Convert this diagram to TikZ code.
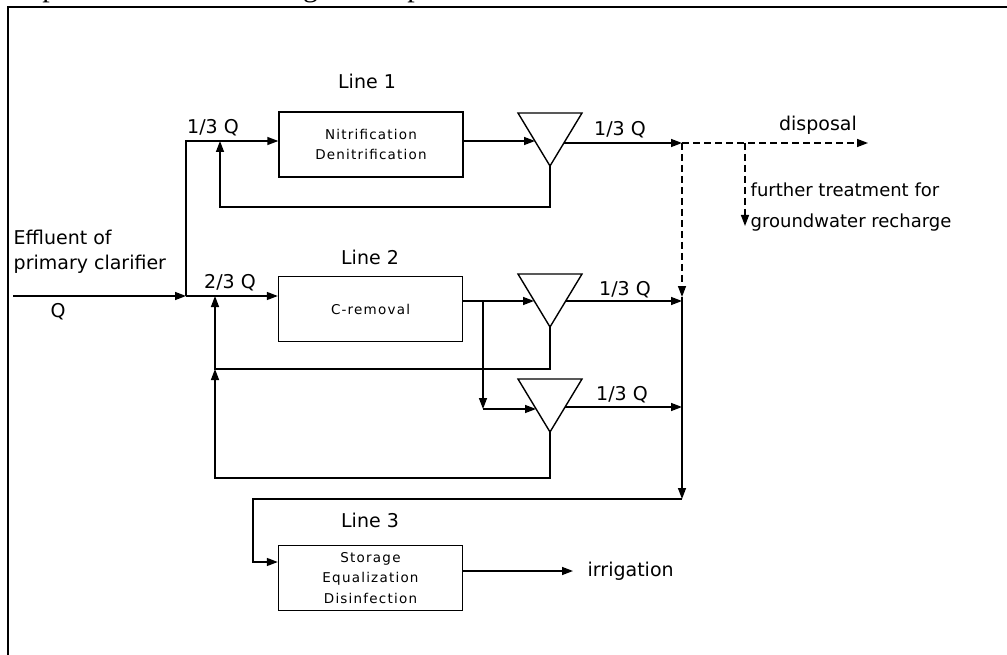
\documentclass[tikz,border=0pt]{standalone}
\usepackage{fontspec}
\setmainfont{DejaVu Sans}
\newfontfamily\titlefont{Liberation Serif}
\newfontfamily\boxfont[LetterSpace=9]{DejaVu Sans}
\usetikzlibrary{arrows.meta}

\begin{document}
\begin{tikzpicture}[x=1pt, y=-1pt, line width=1.4pt,
    >={Triangle[length=11pt,width=8pt]},
    unit/.style={draw, minimum width=184pt, minimum height=65pt, align=center,
      font=\boxfont\fontsize{13.5}{20.5}\selectfont},
    lbl/.style={font=\fontsize{19}{25}\selectfont, inner sep=0pt},
    note/.style={font=\fontsize{18}{25}\selectfont, inner sep=0pt, anchor=west},
    pipe/.style={dash pattern=on 7pt off 4pt}]
    \useasboundingbox (0,0) rectangle (1007,655);
    \path (20,-3.5) node[anchor=base west, inner sep=0pt, font=\titlefont\fontsize{30}{30}\selectfont] (title) {Operational mode in vegetation period};
    \draw[line width=2.6pt] (1007,7) -| (8,655);

    % treatment lines
    \path (371,144.5) node[unit] (nitri) {Nitrification\\Denitrification}
        (370.5,309) node[unit] (crem) {C-removal}
        (370.5,578) node[unit] (store) {Storage\\Equalization\\Disinfection};
    \path (367,81) node[lbl] (line1) {Line 1} (370,257) node[lbl] (line2) {Line 2} (370,520) node[lbl] (line3) {Line 3};

    % settling tanks
    \foreach \n/\t in {t1/113, t2/274, t3/379}
        \draw (518,\t) -- (582,\t) -- (550,{\t+53}) coordinate (\n) -- cycle;

    \path (13,296) coordinate (in) (186,296) coordinate (split) (186,141) coordinate (up1)
        (220,207) coordinate (fb1) (215,369) coordinate (fb2) (215,478) coordinate (fb3)
        (535,141) coordinate (t1in) (564,143) coordinate (t1out)
        (534,301) coordinate (t2in) (566,301) coordinate (t2out)
        (536,409) coordinate (t3in) (565,407) coordinate (t3out)
        (483,301) coordinate (br) (483,409) coordinate (br2)
        (682,143) coordinate (c1) (682,297) coordinate (c2) (682,301) coordinate (c3)
        (682,407) coordinate (c4) (682,499) coordinate (c5) (253,562) coordinate (s3)
        (745,143) coordinate (rech) (745,226) coordinate (rech2) (868,143) coordinate (disp)
        (573,571) coordinate (irr);

    \draw[->] (in) -- (split);
    \draw[->] (split) |- (nitri.west |- up1);
    \draw[->] (split) -- (crem.west |- split);
    \draw[->] (nitri.east |- t1in) -- (t1in);
    \draw[->] (crem.east |- br) -- (t2in);
    \draw[->] (br) -- (br2);
    \draw[->] (br2) -- (t3in);
    \draw[->] (t1) |- (fb1) -- (fb1 |- up1);
    \draw[->] (t2) |- (fb2) -- (fb2 |- split);
    \draw[->] (t3) |- (fb3) -- (fb2);
    \draw[->] (t1out) -- (c1);
    \draw[->] (t2out) -- (c3);
    \draw[->] (t3out) -- (c4);
    \draw[pipe, ->] (c1) -- (disp);
    \draw[pipe, ->] (rech) -- (rech2);
    \draw[pipe, ->] (c1) -- (c2);
    \draw[->] (c2) -- (c5);
    \draw[->] (c5) -| (s3) -- (store.west |- s3);
    \draw[->] (store.east |- irr) -- (irr);

    % labels
    \path (13,252) node[lbl, anchor=west, align=left] (eff) {Effluent of\\primary clarifier}
        (58,312) node[lbl] (q) {Q}
        (213,128) node[lbl] (q1) {1/3 Q}
        (230,283) node[lbl] (q2) {2/3 Q}
        (620,130) node[lbl] (q1out) {1/3 Q}
        (625,290) node[lbl] (q2out) {1/3 Q}
        (622,395) node[lbl] (q3out) {1/3 Q}
        (818,125) node[lbl] (dispo) {disposal}
        (750,190) node[note] (further) {further treatment for}
        (750,223) node[note] (ground) {groundwater recharge}
        (587,571) node[lbl, anchor=west] (irrig) {irrigation};
\end{tikzpicture}
\end{document}
